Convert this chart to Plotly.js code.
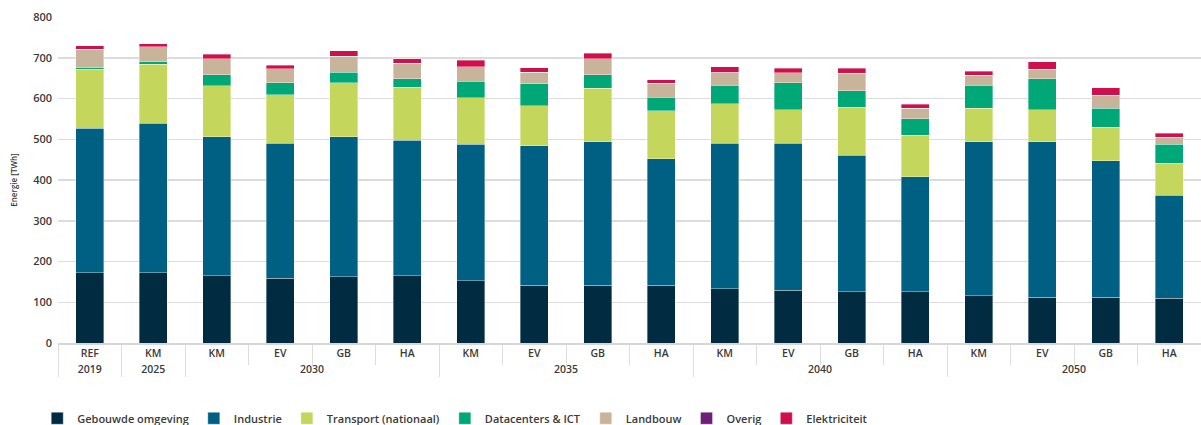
<!DOCTYPE html>
<html>
<head>
<meta charset="utf-8">
<script src="https://cdn.plot.ly/plotly-3.0.1.min.js"></script>
<style>
  html, body { margin: 0; padding: 0; background: #ffffff; }
  #chart { width: 1201px; height: 425px; }
</style>
</head>
<body>
<div id="chart"></div>
<script>
const years     = ["2019","2025","2030","2030","2030","2030","2035","2035","2035","2035","2040","2040","2040","2040","2050","2050","2050","2050"];
const scenarios = ["REF","KM","KM","EV","GB","HA","KM","EV","GB","HA","KM","EV","GB","HA","KM","EV","GB","HA"];

const gebouwde      = [173,173,165,159,163,165,153,142,142,142,133,130,126,126,116,112,112,110];
const industrie     = [354,366,341,331,343,332,335,342,352,310,357,360,335,282,378,382,335,252];
const transport     = [145,145,125,119,133,131,114, 98,131,118, 97, 82,117,102, 82, 78, 82, 79];
const datacenters   = [  4,  6, 27, 30, 26, 21, 40, 54, 33, 33, 45, 67, 41, 40, 56, 77, 47, 47];
const landbouw      = [ 45, 37, 40, 34, 39, 37, 36, 29, 39, 34, 31, 24, 43, 26, 25, 23, 32, 17];
const overig        = [  0,  0,  0,  0,  0,  0,  0,  0,  0,  0,  1,  0,  0,  0,  0,  0,  0,  0];
const elektriciteit = [  8,  7, 10,  9, 13, 12, 16, 10, 14,  9, 14, 11, 12, 10, 10, 18, 19, 10];

const seriesNames  = ["Gebouwde omgeving","Industrie","Transport (nationaal)","Datacenters & ICT","Landbouw","Overig","Elektriciteit"];
const seriesValues = [gebouwde, industrie, transport, datacenters, landbouw, overig, elektriciteit];
const seriesColors = ["#002b40","#006083","#c5d65c","#00a878","#c8b49a","#6d2077","#d0104c"];

const traces = seriesNames.map((name, i) => ({
  type: "bar",
  name: name,
  x: [years, scenarios],
  y: seriesValues[i],
  marker: { color: seriesColors[i], line: { color: "rgba(255,255,255,0.6)", width: 0.6 } },
  hoverinfo: "name+y"
}));

const fontFam = "Open Sans, Lato, DejaVu Sans, sans-serif";

const layout = {
  width: 1201,
  height: 425,
  barmode: "stack",
  bargap: 0.56,
  paper_bgcolor: "#ffffff",
  plot_bgcolor: "#ffffff",
  font: { family: fontFam, size: 10, color: "#3a3a3a", weight: 600 },
  margin: { l: 58, r: 0, t: 17, b: 82, autoexpand: false },
  xaxis: {
    type: "multicategory",
    showline: true,
    linecolor: "#d6d6d6",
    linewidth: 1.5,
    ticks: "outside",
    ticklen: 20,
    tickcolor: "#dddddd",
    tickwidth: 1,
    showdividers: true,
    dividercolor: "#dddddd",
    dividerwidth: 1,
    tickfont: { family: fontFam, size: 10.5, color: "#3a3a3a", weight: 600 },
    showgrid: false,
    zeroline: false
  },
  yaxis: {
    range: [0, 800],
    dtick: 100,
    showgrid: true,
    gridcolor: "#dcdcdc",
    gridwidth: 1.5,
    zeroline: false,
    showline: false,
    ticks: "",
    ticklabelstandoff: 5,
    tickfont: { family: fontFam, size: 11, color: "#3a3a3a", weight: 600 },
    title: { text: "Energie [TWh]", font: { family: fontFam, size: 8, color: "#3a3a3a", weight: 600 }, standoff: 14 }
  },
  showlegend: true,
  legend: {
    orientation: "h",
    x: 0.031,
    xanchor: "left",
    xref: "container",
    y: 0.05,
    yref: "container",
    yanchor: "top",
    traceorder: "normal",
    font: { family: fontFam, size: 11, color: "#3a3a3a", weight: 600 },
    itemwidth: 30,
    bgcolor: "rgba(0,0,0,0)"
  }
};

Plotly.newPlot("chart", traces, layout, { displayModeBar: false, staticPlot: true });
</script>
</body>
</html>
